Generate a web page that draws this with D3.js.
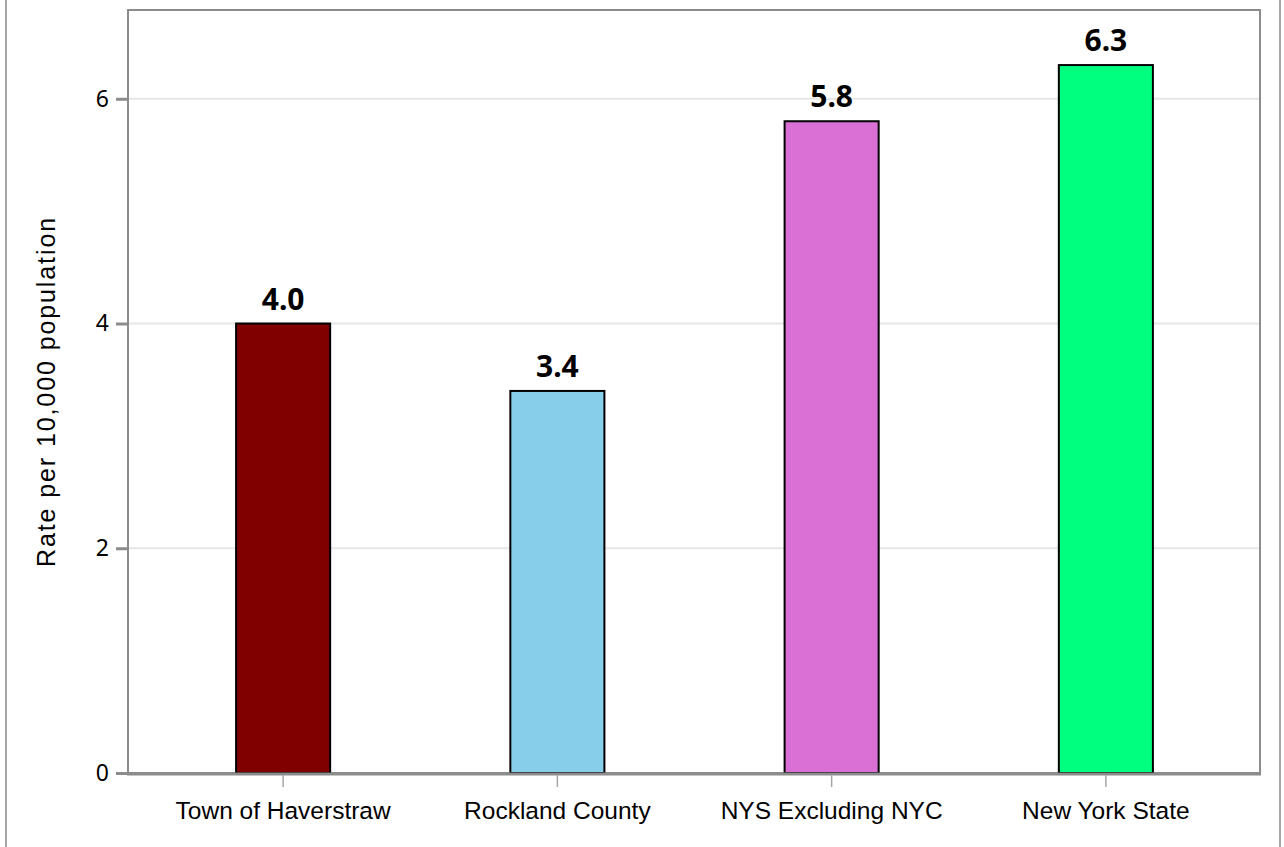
<!DOCTYPE html>
<html><head><meta charset="utf-8">
<script src="https://cdn.jsdelivr.net/npm/d3@7"></script>
<style>html,body{margin:0;padding:0;background:#fff;overflow:hidden}</style>
</head><body>
<svg id="c" width="1284" height="847"></svg>
<script>
const categories = ["Town of Haverstraw", "Rockland County", "NYS Excluding NYC", "New York State"];
const values = [4.0, 3.4, 5.8, 6.3];
const labels = ["4.0", "3.4", "5.8", "6.3"];
const colors = ["#800000", "#87CEEB", "#DA70D6", "#00FF7F"];
const yTicks = [0, 2, 4, 6];

const svg = d3.select("#c");
const L = 128, R = 1260, T = 10, B = 773;

// outer lines
svg.append("line").attr("x1",6).attr("x2",6).attr("y1",0).attr("y2",847).attr("stroke","#a6a6a6").attr("stroke-width",2);
svg.append("line").attr("x1",1280).attr("x2",1280).attr("y1",0).attr("y2",847).attr("stroke","#a6a6a6").attr("stroke-width",2);

const x = d3.scaleBand().domain(categories).range([146, 1243]);
const y = d3.scaleLinear().domain([0, 6.79]).range([B, T]);

// gridlines
svg.append("g").selectAll("line").data(yTicks.filter(d=>d>0)).join("line")
  .attr("x1", L).attr("x2", R).attr("y1", d=>y(d)).attr("y2", d=>y(d))
  .attr("stroke", "#e6e6e6").attr("stroke-width", 2);

// frame
svg.append("rect").attr("x", L).attr("y", T).attr("width", R-L).attr("height", B-T)
  .attr("fill","none").attr("stroke","#8c8c8c").attr("stroke-width",2);

// bars
const bw = x.bandwidth()*0.343;
svg.append("g").selectAll("rect").data(categories).join("rect")
  .attr("x", d=>x(d)+x.bandwidth()/2-bw/2)
  .attr("y", (d,i)=>y(values[i]))
  .attr("width", bw)
  .attr("height", (d,i)=>y(0)-y(values[i]))
  .attr("fill", (d,i)=>colors[i])
  .attr("stroke", "#000").attr("stroke-width", 2);

// bottom axis line
svg.append("line").attr("x1", L-1).attr("x2", R+1).attr("y1", B+1).attr("y2", B+1)
  .attr("stroke","#8c8c8c").attr("stroke-width",3);

// y axis
const yAxis = d3.axisLeft(y).tickValues(yTicks).tickSize(12).tickPadding(7).tickFormat(d3.format("d"));
const gy = svg.append("g").attr("transform", `translate(${L},0)`).call(yAxis);
gy.select(".domain").remove();
gy.selectAll(".tick line").attr("stroke","#8c8c8c").attr("stroke-width",3);
gy.selectAll(".tick text").attr("font-family","'Noto Sans', sans-serif").attr("font-size",23).attr("fill","#000");

// x axis
const xAxis = d3.axisBottom(x).tickSize(12).tickPadding(15);
const gx = svg.append("g").attr("transform", `translate(0,${B+2})`).call(xAxis);
gx.select(".domain").remove();
gx.selectAll(".tick line").attr("stroke","#a6a6a6").attr("stroke-width",1.5);
gx.selectAll(".tick text").attr("font-family","'Liberation Sans', Arial, sans-serif").attr("font-size",24.5).attr("fill","#000");

// value labels
svg.append("g").selectAll("text").data(categories).join("text")
  .attr("x", d=>x(d)+x.bandwidth()/2)
  .attr("y", (d,i)=>y(values[i])-14)
  .attr("text-anchor","middle")
  .attr("font-family","'Noto Sans', sans-serif").attr("font-weight","bold").attr("font-size",30)
  .attr("fill","#000")
  .text((d,i)=>labels[i]);

// y title
svg.append("text").attr("transform", `translate(55,${(T+B)/2}) rotate(-90)`)
  .attr("text-anchor","middle")
  .attr("font-family","'Liberation Sans', Arial, sans-serif").attr("font-size",25).attr("letter-spacing",1.9).attr("fill","#000")
  .text("Rate per 10,000 population");
</script>
</body></html>
